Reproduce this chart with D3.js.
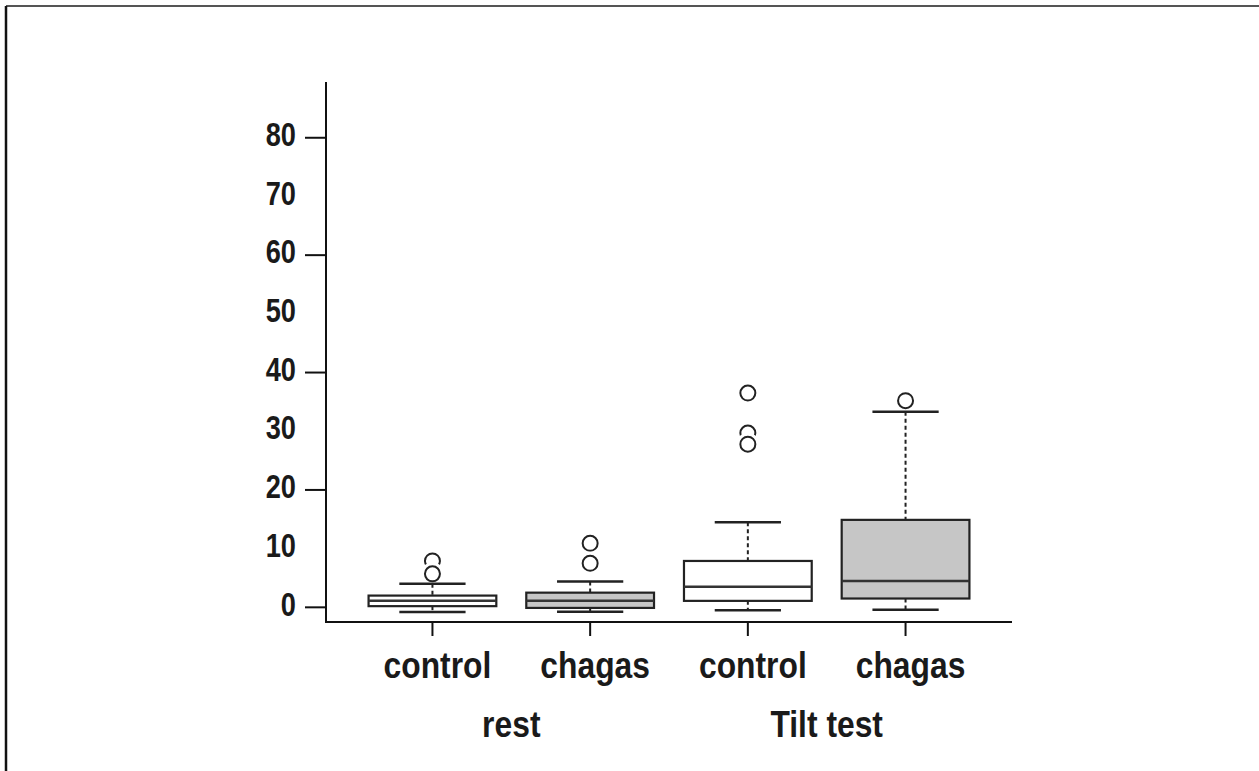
<!DOCTYPE html>
<html>
<head>
<meta charset="utf-8">
<script src="https://cdn.jsdelivr.net/npm/d3@7"></script>
<style>
  html,body{margin:0;padding:0;background:#fff;}
  svg{display:block;}
  .lbl{font-family:"Liberation Sans",Arial,sans-serif;font-weight:bold;fill:#1a1a1a;}
</style>
</head>
<body>
<div id="chart"></div>
<script>
// values
var groups=["rest","rest","Tilt test","Tilt test"];
var categories=["control","chagas","control","chagas"];
var whiskerLow=[-0.8,-0.75,-0.5,-0.4];
var q1=[0.2,-0.1,1.1,1.5];
var median=[1.1,1.1,3.5,4.5];
var q3=[2.0,2.5,7.9,14.9];
var whiskerHigh=[4.0,4.4,14.5,33.3];
var outliers=[[7.9,5.7],[10.9,7.5],[36.5,29.7,27.8],[35.2]];
var yTicks=[0,10,20,30,40,50,60,70,80];
var yTickMarks=[0,20,40,60,80];

var W=1259,H=771;
var svg=d3.select("#chart").append("svg").attr("width",W).attr("height",H);

// frame (top + left edges only)
svg.append("line").attr("x1",6).attr("x2",W).attr("y1",6).attr("y2",6).attr("stroke","#555").attr("stroke-width",2);
svg.append("line").attr("x1",6).attr("x2",6).attr("y1",6).attr("y2",H).attr("stroke","#111").attr("stroke-width",2.5);

var x=d3.scalePoint().domain(d3.range(categories.length)).range([326,1012]).padding(0.675);
var y=d3.scaleLinear().domain([-2.5,89.5]).range([622,82]);
var step=x.step(), boxW=step*0.81, capW=step*0.42;

var g=svg.append("g");

// axes
g.append("line").attr("x1",326).attr("x2",326).attr("y1",y(89.5)).attr("y2",y(-2.5)+1).attr("stroke","#111").attr("stroke-width",2);
g.append("line").attr("x1",325).attr("x2",1012).attr("y1",y(-2.5)).attr("y2",y(-2.5)).attr("stroke","#111").attr("stroke-width",2);
g.selectAll("line.ytick").data(yTickMarks).enter().append("line").attr("class","ytick")
  .attr("x1",305).attr("x2",326).attr("y1",function(d){return y(d);}).attr("y2",function(d){return y(d);})
  .attr("stroke","#111").attr("stroke-width",2);
g.selectAll("text.ylab").data(yTicks).enter().append("text").attr("class","lbl ylab")
  .attr("transform",function(d){return "translate(296,"+(y(d)-4)+") scale(0.8,1)";})
  .attr("dy","0.36em").attr("text-anchor","end").style("font-size","34px").text(function(d){return d;});
g.selectAll("line.xtick").data(d3.range(categories.length)).enter().append("line").attr("class","xtick")
  .attr("x1",function(d){return x(d);}).attr("x2",function(d){return x(d);})
  .attr("y1",y(-2.5)).attr("y2",y(-2.5)+14).attr("stroke","#111").attr("stroke-width",2);

// boxes
var rows=d3.range(categories.length).map(function(i){
  return {i:i,cat:categories[i],lo:whiskerLow[i],q1:q1[i],med:median[i],q3:q3[i],hi:whiskerHigh[i],out:outliers[i]};
});
var b=g.selectAll("g.box").data(rows).enter().append("g").attr("class","box");

// outliers first: each gets a white halo that hides the one above it
var o=b.selectAll("g.out").data(function(d){return d.out.map(function(v){return {i:d.i,v:v};});}).enter().append("g").attr("class","out")
  .attr("transform",function(d){return "translate("+x(d.i)+","+y(d.v)+")";});
o.append("circle").attr("r",11.5).attr("fill","#fff");
o.append("circle").attr("r",7.5).attr("fill","#fff").attr("stroke","#222").attr("stroke-width",2);

b.append("line").attr("x1",function(d){return x(d.i);}).attr("x2",function(d){return x(d.i);})
  .attr("y1",function(d){return y(d.hi);}).attr("y2",function(d){return y(d.q3);})
  .attr("stroke","#222").attr("stroke-width",2).attr("stroke-dasharray","4 3");
b.append("line").attr("x1",function(d){return x(d.i);}).attr("x2",function(d){return x(d.i);})
  .attr("y1",function(d){return y(d.q1);}).attr("y2",function(d){return y(d.lo);})
  .attr("stroke","#222").attr("stroke-width",2).attr("stroke-dasharray","4 3");
b.selectAll("line.cap").data(function(d){return [{i:d.i,v:d.hi},{i:d.i,v:d.lo}];}).enter().append("line").attr("class","cap")
  .attr("x1",function(d){return x(d.i)-capW/2;}).attr("x2",function(d){return x(d.i)+capW/2;})
  .attr("y1",function(d){return y(d.v);}).attr("y2",function(d){return y(d.v);})
  .attr("stroke","#222").attr("stroke-width",2.5);
b.append("rect").attr("x",function(d){return x(d.i)-boxW/2;}).attr("width",boxW)
  .attr("y",function(d){return y(d.q3);}).attr("height",function(d){return y(d.q1)-y(d.q3);})
  .attr("fill",function(d){return d.cat==="chagas"?"#c6c6c6":"#fff";})
  .attr("stroke","#222").attr("stroke-width",2.2);
b.append("line").attr("x1",function(d){return x(d.i)-boxW/2;}).attr("x2",function(d){return x(d.i)+boxW/2;})
  .attr("y1",function(d){return y(d.med);}).attr("y2",function(d){return y(d.med);})
  .attr("stroke","#333").attr("stroke-width",2.5);

// category labels
g.selectAll("text.xlab").data(rows).enter().append("text").attr("class","lbl xlab")
  .attr("transform",function(d){return "translate("+(x(d.i)+5)+",678) scale(0.86,1)";})
  .attr("text-anchor","middle").style("font-size","37px").text(function(d){return d.cat;});

// group labels
var groupNames=Array.from(new Set(groups));
g.selectAll("text.glab").data(groupNames).enter().append("text").attr("class","lbl glab")
  .attr("transform",function(n){var idx=d3.range(groups.length).filter(function(i){return groups[i]===n;});
    return "translate("+d3.mean(idx,function(i){return x(i);})+",737) scale(0.86,1)";})
  .attr("text-anchor","middle").style("font-size","37px").text(function(n){return n;});
</script>
</body>
</html>
